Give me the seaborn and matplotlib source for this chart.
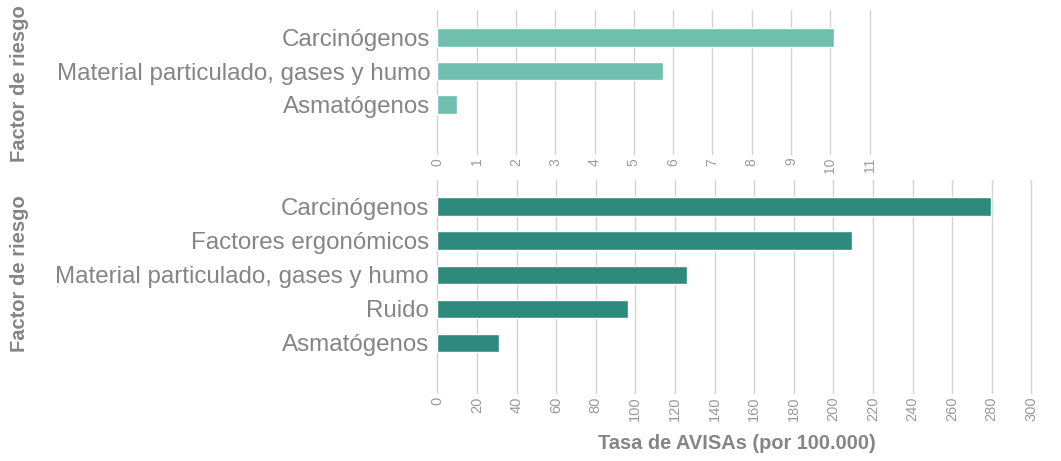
import matplotlib
matplotlib.use("Agg")
import matplotlib.pyplot as plt
import seaborn as sns
import pandas as pd

# Data
top_categories = ["Carcinógenos", "Material particulado, gases y humo", "Asmatógenos"]
top_values = [10.1, 5.75, 0.51]
top_ticks = list(range(0, 12))

bottom_categories = ["Carcinógenos", "Factores ergonómicos",
                     "Material particulado, gases y humo", "Ruido", "Asmatógenos"]
bottom_values = [279.5, 209.6, 126.3, 96.3, 31.0]
bottom_ticks = list(range(0, 301, 20))

y_label = "Factor de riesgo"
x_label = "Tasa de AVISAs (por 100.000)"

sns.set_theme(style="white")
plt.rcParams["font.family"] = ["Liberation Sans", "DejaVu Sans"]

W, H = 1061, 461
fig = plt.figure(figsize=(W / 100, H / 100), dpi=100)
fig.patch.set_facecolor("white")

def box(left_px, top_px, right_px, bottom_px):
    return [left_px / W, 1 - bottom_px / H, (right_px - left_px) / W, (bottom_px - top_px) / H]

text_gray = "#858585"
tick_gray = "#9a9a9a"
grid_gray = "#d4d4d4"

# Top axes: x 0 at 437.3 px, 39.3 px/unit
x0 = 437.3
t_scale = 39.3
t_xmin, t_xmax = -0.03, 11.3
ax1 = fig.add_axes(box(x0 + t_xmin * t_scale, 10, x0 + t_xmax * t_scale, 155))
df1 = pd.DataFrame({"cat": top_categories, "val": top_values})
sns.barplot(data=df1, x="val", y="cat", orient="h", color="#70bead",
            saturation=1, width=0.55, ax=ax1)
ax1.set_xlim(t_xmin, t_xmax)
ax1.set_ylim(3.507, -0.826)
ax1.set_xticks(top_ticks)
ax1.set_xticklabels([str(t) for t in top_ticks], rotation=90, color=tick_gray, fontsize=10)

# Bottom axes: 1.98 px/unit
b_scale = 1.98
b_xmin, b_xmax = -1.5, 305
ax2 = fig.add_axes(box(x0 + b_xmin * b_scale, 180, x0 + b_xmax * b_scale, 394))
df2 = pd.DataFrame({"cat": bottom_categories, "val": bottom_values})
sns.barplot(data=df2, x="val", y="cat", orient="h", color="#2e8a7c",
            saturation=1, width=0.54, ax=ax2)
ax2.set_xlim(b_xmin, b_xmax)
ax2.set_ylim(5.496, -0.777)
ax2.set_xticks(bottom_ticks)
ax2.set_xticklabels([str(t) for t in bottom_ticks], rotation=90, color=tick_gray, fontsize=10.5)

for ax in (ax1, ax2):
    ax.set_facecolor("none")
    for s in ax.spines.values():
        s.set_visible(False)
    ax.grid(axis="x", color=grid_gray, linewidth=1.0)
    ax.grid(axis="y", visible=False)
    ax.set_axisbelow(True)
    ax.tick_params(axis="both", length=0)
    ax.tick_params(axis="x", pad=2)
    ax.tick_params(axis="y", pad=4)
    for lab in ax.get_yticklabels():
        lab.set_fontsize(17.4)
        lab.set_color(text_gray)
    ax.set_xlabel("")
    ax.set_ylabel("")

fig.text(20 / W, 1 - 84 / H, y_label, rotation=90, ha="center", va="center",
         fontsize=14.5, fontweight="bold", color=text_gray)
fig.text(20 / W, 1 - 274 / H, y_label, rotation=90, ha="center", va="center",
         fontsize=14.5, fontweight="bold", color=text_gray)
fig.text(737 / W, 1 - 443 / H, x_label, ha="center", va="center",
         fontsize=14.4, fontweight="bold", color=text_gray)

fig.savefig("out.png", dpi=100, facecolor="white")
